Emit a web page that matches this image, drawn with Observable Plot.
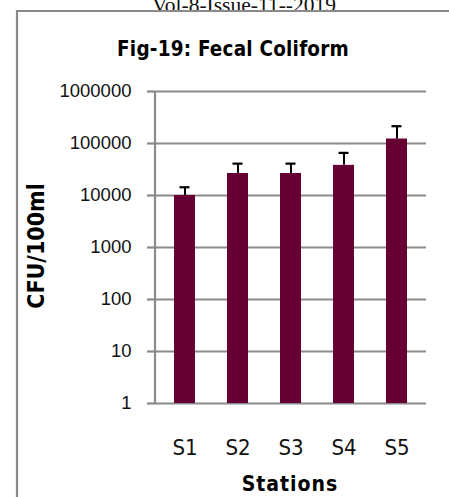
<!DOCTYPE html>
<html>
<head>
<meta charset="utf-8">
<script src="https://cdn.jsdelivr.net/npm/d3@7"></script>
<script src="https://cdn.jsdelivr.net/npm/@observablehq/plot@0.6"></script>
<style>
  html, body { margin: 0; padding: 0; background: #fff; }
  svg { display: block; }
</style>
</head>
<body>
<div id="chart"></div>
<script>
const stations = ["S1", "S2", "S3", "S4", "S5"];
const means = [10000, 26500, 26500, 38000, 122000];
const upper = [14400, 41000, 41000, 66000, 215000];
const yTicks = [1, 10, 100, 1000, 10000, 100000, 1000000];
const title = "Fig-19: Fecal Coliform";
const header = "Vol-8-Issue-11--2019";
const xTitle = "Stations";
const yTitle = "CFU/100ml";

const data = stations.map((s, i) => ({station: s, mean: means[i], upper: upper[i]}));

const W = 449, H = 497;
const grey = "#8a8a8a";
const cond = "'DejaVu Sans Condensed', 'Liberation Sans', sans-serif";
const plot = Plot.plot({
  width: W,
  height: H,
  marginLeft: 155,
  marginRight: 23,
  marginTop: 91,
  marginBottom: 94,
  style: {fontFamily: "'Liberation Sans', Arial, sans-serif", background: "#fff", overflow: "visible"},
  x: {type: "band", domain: stations, paddingInner: 0.6, paddingOuter: 0.31, label: null},
  y: {type: "log", domain: [1, 1000000], label: null},
  marks: [
    Plot.ruleY(yTicks, {stroke: grey, strokeWidth: 2.2, strokeOpacity: 1}),
    Plot.axisY({ticks: yTicks, tickFormat: d => String(d), tickSize: 8, tickPadding: 16, stroke: grey, strokeWidth: 2.2, strokeOpacity: 1, fontSize: 18.5, fill: "#111", label: null}),
    Plot.barY(data, {x: "station", y1: 1, y2: "mean", fill: "#660033"}),
    Plot.ruleX(data, {x: "station", y1: "mean", y2: "upper", stroke: "#000", strokeWidth: 2}),
    Plot.tickY(data, {x: "station", y: "upper", stroke: "#000", strokeWidth: 2.2, insetLeft: 5.5, insetRight: 5.5}),
    Plot.axisX({tickSize: 0, tickPadding: 36, fontSize: 22, fontFamily: cond, fill: "#111", label: null})
  ]
});

const svg = d3.select(plot);
// y axis line
svg.append("line").attr("x1", 155).attr("x2", 155).attr("y1", 91).attr("y2", 404)
  .attr("stroke", grey).attr("stroke-width", 2.2);
// header (clipped at top, as in the source page)
svg.append("text").attr("x", 244).attr("y", 12).attr("text-anchor", "middle")
  .attr("font-family", "'Liberation Serif', 'DejaVu Serif', serif").attr("font-size", 21.5)
  .attr("fill", "#111").text(header);
// outer frame
svg.append("path").attr("d", `M17,${H + 5} L17,11 L${W + 5},11`)
  .attr("fill", "none").attr("stroke", grey).attr("stroke-width", 2.2);
// title
svg.append("text").attr("x", 233).attr("y", 56).attr("text-anchor", "middle")
  .attr("font-family", cond).attr("font-weight", "bold")
  .attr("font-size", 20.5).attr("letter-spacing", 0.2).attr("fill", "#000").text(title);
// x title
svg.append("text").attr("x", 290).attr("y", 491).attr("text-anchor", "middle")
  .attr("font-family", cond).attr("font-weight", "bold")
  .attr("font-size", 21).attr("letter-spacing", 1).attr("fill", "#000").text(xTitle);
// y title
svg.append("text").attr("transform", "translate(44,246) rotate(-90)").attr("text-anchor", "middle")
  .attr("font-family", cond).attr("font-weight", "bold")
  .attr("font-size", 23).attr("letter-spacing", 0).attr("fill", "#000").text(yTitle);

document.getElementById("chart").appendChild(plot);
</script>
</body>
</html>
